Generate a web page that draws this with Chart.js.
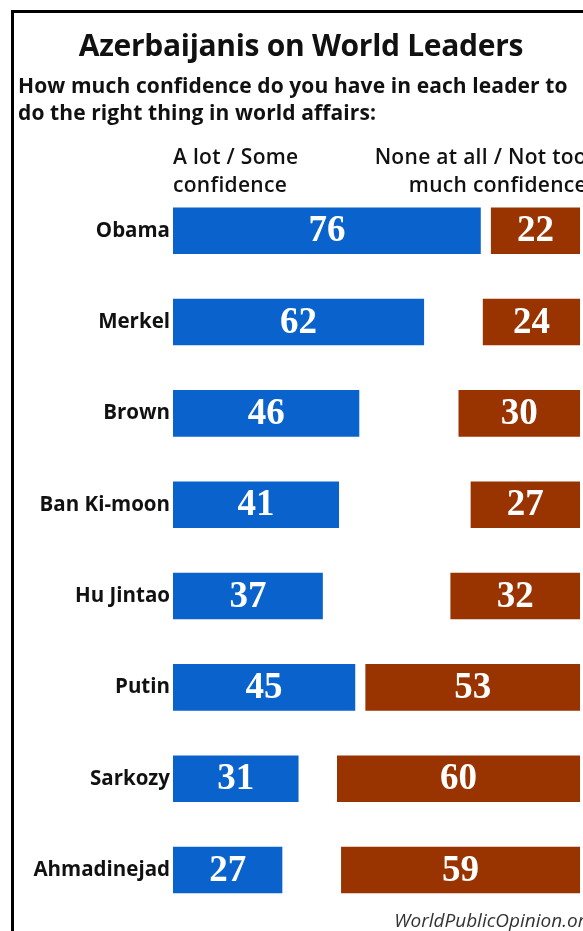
<!DOCTYPE html>
<html>
<head>
<meta charset="utf-8">
<script src="https://cdn.jsdelivr.net/npm/chart.js@4/dist/chart.umd.min.js"></script>
<style>
  body { margin: 0; background: #fff; }
  #wrap { position: relative; width: 583px; height: 931px; overflow: hidden; font-family: "Open Sans", Lato, sans-serif; }
  #frame { position: absolute; left: 11px; top: 10px; width: 600px; height: 940px; border-top: 3px solid #000; border-left: 3px solid #000; }
  #chart { position: absolute; left: 0; top: 0; }
  .txt { position: absolute; white-space: nowrap; color: #111; }
  #title { left: 0; width: 602px; text-align: center; top: 24px; font-size: 30px; font-weight: 700; letter-spacing: -0.3px; }
  .sub { left: 18px; font-size: 21px; font-weight: 700; letter-spacing: 0.1px; }
  .head { font-size: 21px; font-weight: 600; line-height: 28px; letter-spacing: 0.3px; }
  #src { right: -12px; top: 907px; font-size: 19px; font-style: italic; color: #333; }
</style>
</head>
<body>
<div id="wrap">
  <div id="frame"></div>
  <canvas id="chart" width="583" height="931"></canvas>
  <div class="txt" id="title">Azerbaijanis on World Leaders</div>
  <div class="txt sub" style="top:71px">How much confidence do you have in each leader to</div>
  <div class="txt sub" style="top:98px">do the right thing in world affairs:</div>
  <div class="txt head" style="left:173px; top:142px">A lot / Some<br>confidence</div>
  <div class="txt head" style="right:-4px; top:142px; text-align:right">None at all / Not too<br>much confidence</div>
  <div class="txt" id="src">WorldPublicOpinion.org</div>
</div>
<script>
// Data
const leaders = ['Obama', 'Merkel', 'Brown', 'Ban Ki-moon', 'Hu Jintao', 'Putin', 'Sarkozy', 'Ahmadinejad'];
const confident = [76, 62, 46, 41, 37, 45, 31, 27];
const notConfident = [22, 24, 30, 27, 32, 53, 60, 59];
const MAX = 100.5;

// spacer pushes the brown bars to the right edge
const spacer = leaders.map((l, i) => MAX - confident[i] - notConfident[i]);

const barLabels = {
  id: 'barLabels',
  afterDatasetsDraw(chart) {
    const ctx = chart.ctx;
    ctx.save();
    ctx.fillStyle = '#fff';
    ctx.font = 'bold 37px "Liberation Serif", "DejaVu Serif", serif';
    ctx.textAlign = 'center';
    ctx.textBaseline = 'middle';
    [0, 2].forEach(di => {
      const meta = chart.getDatasetMeta(di);
      meta.data.forEach((bar, i) => {
        const p = bar.getProps(['x', 'y', 'base'], true);
        ctx.fillText(chart.data.datasets[di].data[i], (p.x + p.base) / 2, p.y + 1);
      });
    });
    ctx.restore();
  }
};

new Chart(document.getElementById('chart'), {
  type: 'bar',
  data: {
    labels: leaders,
    datasets: [
      { data: confident, backgroundColor: '#0a63cc' },
      { data: spacer, backgroundColor: 'rgba(0,0,0,0)' },
      { data: notConfident, backgroundColor: '#993300' }
    ]
  },
  options: {
    indexAxis: 'y',
    responsive: false,
    animation: false,
    layout: { padding: { top: 185, right: 3, bottom: 3, left: 0 } },
    datasets: { bar: { categoryPercentage: 1, barPercentage: 0.51 } },
    plugins: { legend: { display: false }, tooltip: { enabled: false } },
    scales: {
      x: { stacked: true, min: 0, max: MAX, display: false },
      y: {
        stacked: true,
        grid: { display: false, drawTicks: false },
        border: { display: false },
        ticks: {
          padding: 3,
          color: '#111',
          font: { family: '"Open Sans", Lato, sans-serif', size: 20.5, weight: 'bold' }
        },
        afterFit(scale) { scale.width = 173; }
      }
    }
  },
  plugins: [barLabels]
});
</script>
</body>
</html>
